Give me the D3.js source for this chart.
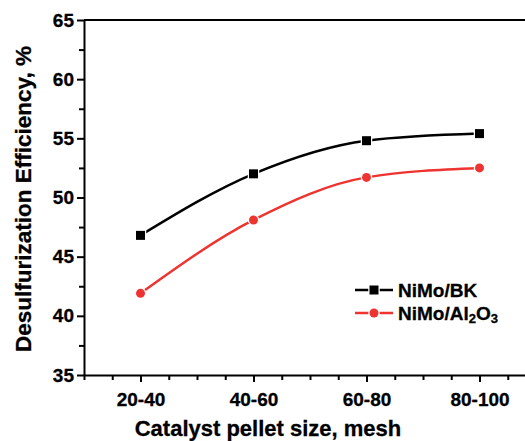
<html>
<head>
<style>
  body { margin: 0; background: #fff; }
  text { font-family: Arial, "Liberation Sans", sans-serif; font-weight: bold; fill: #000; stroke: #000; stroke-width: 0.3px; }
</style>
</head>
<body>
<script src="https://cdnjs.cloudflare.com/ajax/libs/d3/7.8.5/d3.min.js"></script>
<script>
    var categories = ['20-40', '40-60', '60-80', '80-100'];
    var bkValues = [46.8, 52.0, 54.8, 55.4];
    var alValues = [41.9, 48.1, 51.7, 52.5];
    var yTicks = [35, 40, 45, 50, 55, 60, 65];

    var width = 525, height = 441;
    var plotLeft = 84, plotTop = 20, plotBottom = 375;

    var svg = d3.select('body').append('svg')
        .attr('width', width)
        .attr('height', height);

    // scales: categories on index positions, half a step of room either side
    var x = d3.scaleLinear().domain([-0.5, 3.5]).range([plotLeft, plotLeft + 452]);
    var y = d3.scaleLinear().domain([35, 65]).range([plotBottom, plotTop]);

    // minor ticks
    var xMinor = d3.range(-0.5, 3.51, 0.25).filter(v => Math.abs(v - Math.round(v)) > 0.01);
    var yMinor = d3.range(37.5, 65, 5);

    var gx = svg.append('g').attr('transform', `translate(0,${plotBottom})`);
    gx.call(d3.axisBottom(x).tickValues(xMinor).tickFormat('').tickSizeOuter(0).tickSizeInner(5));
    gx.call(g => g.select('.domain').remove());
    var gx2 = svg.append('g').attr('transform', `translate(0,${plotBottom})`);
    gx2.call(d3.axisBottom(x).tickValues(d3.range(categories.length)).tickFormat(i => categories[i])
        .tickSizeOuter(0).tickSizeInner(7).tickPadding(8));

    var gy = svg.append('g').attr('transform', `translate(${plotLeft},0)`);
    gy.call(d3.axisLeft(y).tickValues(yMinor).tickFormat('').tickSizeOuter(0).tickSizeInner(5));
    gy.call(g => g.select('.domain').remove());
    var gy2 = svg.append('g').attr('transform', `translate(${plotLeft},0)`);
    gy2.call(d3.axisLeft(y).tickValues(yTicks).tickSizeOuter(0).tickSizeInner(7).tickPadding(3));

    svg.selectAll('.domain, .tick line').attr('stroke', '#000').attr('stroke-width', 2);
    svg.selectAll('.tick text').style('font-size', '19px').attr('fill', '#000');
    gx2.selectAll('.tick text').attr('dy', '0.85em');

    // top border
    svg.append('line')
        .attr('x1', plotLeft).attr('x2', x(3.5))
        .attr('y1', y(65)).attr('y2', y(65))
        .attr('stroke', '#000').attr('stroke-width', 2);

    // series
    var series = [
        { name: 'NiMo/BK', values: bkValues, color: '#000000', shape: 'square' },
        { name: 'NiMo/Al2O3', values: alValues, color: '#ee3430', shape: 'circle' }
    ];

    var line = d3.line()
        .x((d, i) => x(i))
        .y(d => y(d))
        .curve(d3.curveMonotoneX);

    function marker(g, s, cx, cy) {
        if (s.shape === 'square') {
            g.append('rect')
                .attr('x', cx - 4.5).attr('y', cy - 4.5)
                .attr('width', 9).attr('height', 9)
                .attr('fill', s.color).attr('stroke', '#fff').attr('stroke-width', 2.5)
                .attr('paint-order', 'stroke');
        } else {
            g.append('circle')
                .attr('cx', cx).attr('cy', cy).attr('r', 4.5)
                .attr('fill', s.color).attr('stroke', '#fff').attr('stroke-width', 2.5)
                .attr('paint-order', 'stroke');
        }
    }

    series.forEach(s => {
        svg.append('path')
            .datum(s.values)
            .attr('d', line)
            .attr('fill', 'none')
            .attr('stroke', s.color)
            .attr('stroke-width', 2.5);
        var g = svg.append('g');
        s.values.forEach((v, i) => marker(g, s, x(i), y(v)));
    });

    // legend
    var legend = svg.append('g');
    series.forEach((s, i) => {
        var ly = 290 + i * 23;
        legend.append('line')
            .attr('x1', 355).attr('x2', 393)
            .attr('y1', ly).attr('y2', ly)
            .attr('stroke', s.color).attr('stroke-width', 2.5);
        marker(legend, s, 374, ly);
        var t = legend.append('text')
            .attr('x', 398).attr('y', ly + 6.5)
            .style('font-size', '19px');
        if (i === 0) {
            t.text(s.name);
        } else {
            t.append('tspan').text('NiMo/Al');
            t.append('tspan').text('2').style('font-size', '13px').attr('dy', 3);
            t.append('tspan').text('O').attr('dy', -3);
            t.append('tspan').text('3').style('font-size', '13px').attr('dy', 3);
        }
    });

    // axis titles
    svg.append('text')
        .attr('x', 268).attr('y', 436)
        .attr('text-anchor', 'middle')
        .style('font-size', '22px')
        .text('Catalyst pellet size, mesh');

    svg.append('text')
        .attr('transform', 'translate(31,199) rotate(-90)')
        .attr('text-anchor', 'middle')
        .style('font-size', '22.5px')
        .text('Desulfurization Efficiency, %');
</script>
</body>
</html>
